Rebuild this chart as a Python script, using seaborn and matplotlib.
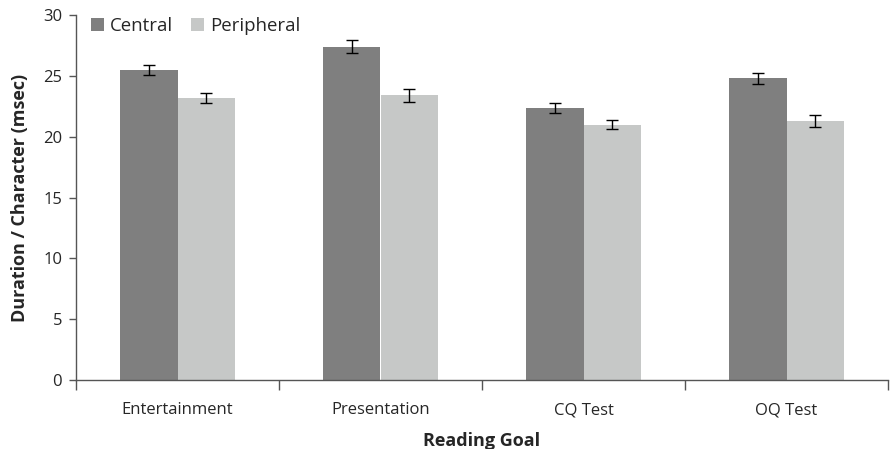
import pandas as pd
import matplotlib
matplotlib.use("Agg")
import matplotlib.pyplot as plt
import seaborn as sns

goals = ["Entertainment", "Presentation", "CQ Test", "OQ Test"]
central = [25.5, 27.4, 22.35, 24.8]
peripheral = [23.2, 23.4, 21.0, 21.3]
central_err = [0.4, 0.55, 0.4, 0.45]
peripheral_err = [0.4, 0.55, 0.4, 0.5]

data = pd.DataFrame({
    "goal": goals * 2,
    "region": ["Central"] * 4 + ["Peripheral"] * 4,
    "value": central + peripheral,
})

sns.set_style("white")
plt.rcParams["font.family"] = ["Open Sans", "DejaVu Sans"]

fig = plt.figure(figsize=(8.9, 4.49), dpi=100)
ax = fig.add_axes([76 / 890, 1 - 380 / 449, 812 / 890, 365 / 449])

sns.barplot(data=data, x="goal", y="value", hue="region", order=goals,
            palette=["#7f7f7f", "#c6c8c7"], width=0.57, errorbar=None,
            saturation=1, linewidth=0, ax=ax)

# error bars on top of each bar
for cont, errs in zip(ax.containers, [central_err, peripheral_err]):
    for bar, e in zip(cont, errs):
        cx = bar.get_x() + bar.get_width() / 2
        ax.errorbar(cx, bar.get_height(), yerr=e, fmt="none", ecolor="black",
                    elinewidth=1, capsize=4, capthick=1)

ax.set_xlim(-0.5, 3.5)
ax.set_ylim(0, 30)
ax.set_yticks(range(0, 31, 5))
ax.tick_params(axis="y", direction="out", length=5, width=1, color="#555555",
               labelsize=12, left=True, pad=5)

ax.set_xticks([-0.5, 0.5, 1.5, 2.5, 3.5])
ax.set_xticklabels([])
ax.set_xticks(range(4), minor=True)
ax.set_xticklabels(goals, minor=True, fontsize=12)
ax.tick_params(axis="x", which="major", direction="out", length=7, width=1,
               color="#555555", bottom=True)
ax.tick_params(axis="x", which="minor", length=0, pad=16)

for s in ["top", "right"]:
    ax.spines[s].set_visible(False)
for s in ["left", "bottom"]:
    ax.spines[s].set_color("#555555")
    ax.spines[s].set_linewidth(1)

ax.set_xlabel("Reading Goal", fontsize=13, fontweight="bold", labelpad=10)
ax.set_ylabel("Duration / Character (msec)", fontsize=13, fontweight="bold", labelpad=10)

leg = ax.legend(loc="upper left", bbox_to_anchor=(0.0185, 0.995), ncol=2,
                frameon=False, fontsize=13.4, handlelength=0.7, handleheight=0.7,
                handletextpad=0.3, columnspacing=1.0, borderpad=0,
                borderaxespad=0, title=None)

fig.savefig("out.png", dpi=100)
